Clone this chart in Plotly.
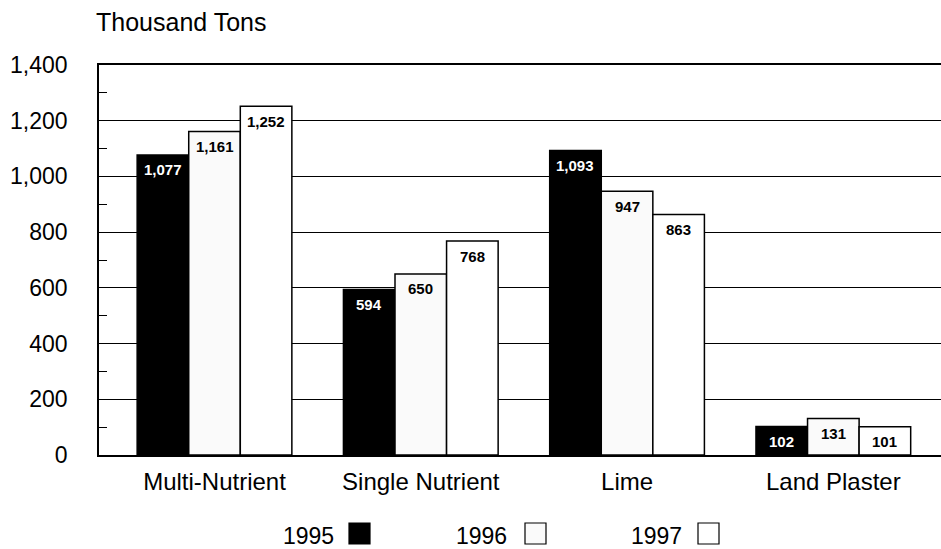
import plotly.graph_objects as go

categories = ["Multi-Nutrient", "Single Nutrient", "Lime", "Land Plaster"]
years = ["1995", "1996", "1997"]
values_1995 = [1077, 594, 1093, 102]
values_1996 = [1161, 650, 947, 131]
values_1997 = [1252, 768, 863, 101]
y_ticks = [0, 200, 400, 600, 800, 1000, 1200, 1400]
y_minor = [100, 300, 500, 700, 900, 1100, 1300]

series = [values_1995, values_1996, values_1997]
fills = ["#000000", "#fafafa", "#ffffff"]
text_colors = ["#ffffff", "#000000", "#000000"]
offsets = [-0.25, 0.0, 0.25]

FONT = "Liberation Sans, Arial, Helvetica, sans-serif"
W, H = 941, 549
L, R, T, B = 99, 0, 65, 94
PW, PH = W - L - R, H - T - B

def px_x(px):
    return (px - L) / PW

def px_y(py):
    return (H - B - py) / PH

xs = list(range(len(categories)))
fig = go.Figure()
for name, vals, fill in zip(years, series, fills):
    fig.add_trace(go.Bar(
        x=xs, y=vals, name=name,
        marker=dict(color=fill, line=dict(color="#000000", width=1.5)),
        showlegend=False,
    ))

annotations = []
for vals, off, tc in zip(series, offsets, text_colors):
    for i, v in enumerate(vals):
        annotations.append(dict(
            x=i + off, y=v, xref="x", yref="y", text=f"{v:,}",
            showarrow=False, yanchor="middle", yshift=-15,
            font=dict(family=FONT, size=15, color=tc, weight="bold"),
        ))

annotations.append(dict(
    x=px_x(94), y=px_y(22), xref="paper", yref="paper", text="Thousand Tons",
    showarrow=False, xanchor="left", yanchor="middle",
    font=dict(family=FONT, size=25, color="#000000"),
))

# legend: text followed by swatch
legend_text_right = [336, 509, 684]
legend_box_left = [349, 525, 698]
shapes = []
for name, tr, bl, fill in zip(years, legend_text_right, legend_box_left, fills):
    annotations.append(dict(
        x=px_x(tr), y=px_y(536), xref="paper", yref="paper", text=name,
        showarrow=False, xanchor="right", yanchor="middle",
        font=dict(family=FONT, size=23, color="#000000"),
    ))
    shapes.append(dict(
        type="rect", xref="paper", yref="paper",
        x0=px_x(bl), x1=px_x(bl + 21), y0=px_y(523), y1=px_y(544),
        fillcolor=fill, line=dict(color="#000000", width=1.2),
    ))

fig.update_layout(
    width=W, height=H,
    margin=dict(l=L, r=R, t=T, b=B, pad=0),
    paper_bgcolor="#ffffff", plot_bgcolor="#ffffff",
    barmode="group", bargap=0.25, bargroupgap=0.0,
    font=dict(family=FONT, size=24, color="#000000"),
    annotations=annotations, shapes=shapes,
    showlegend=False,
)
fig.update_xaxes(
    range=[-0.56, 3.522], tickvals=xs, ticktext=categories,
    showgrid=False, showline=True, linecolor="#000000", linewidth=1.5,
    mirror=True,
    ticks="", ticklabelstandoff=4, zeroline=False,
    tickfont=dict(family=FONT, size=24, color="#000000"),
)
fig.update_yaxes(
    range=[0, 1400], tickvals=y_ticks, ticktext=[f"{v:,}" for v in y_ticks],
    showgrid=True, gridcolor="#000000", gridwidth=1.3,
    showline=True, linecolor="#000000", linewidth=1.5,
    ticks="", ticklabelstandoff=25, zeroline=False,
    tickfont=dict(family=FONT, size=23, color="#000000"),
    minor=dict(tickvals=y_minor, ticks="inside", ticklen=8, tickwidth=1.3,
               tickcolor="#000000", showgrid=False),
)

fig.write_html(
    "out.html",
    config={"displayModeBar": False},
    post_script="document.body.style.margin='0';document.body.style.padding='0';",
)
